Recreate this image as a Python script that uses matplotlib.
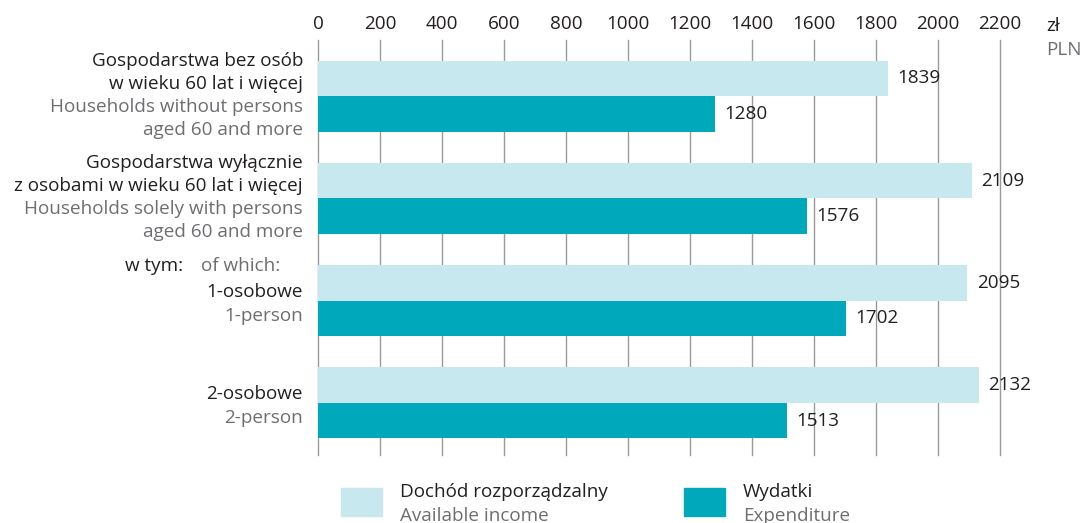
import numpy as np
import matplotlib
matplotlib.use("Agg")
import matplotlib.pyplot as plt
from matplotlib.patches import Rectangle

# data
groups_pl = [["Gospodarstwa bez osób", "w wieku 60 lat i więcej"],
             ["Gospodarstwa wyłącznie", "z osobami w wieku 60 lat i więcej"],
             ["1-osobowe"],
             ["2-osobowe"]]
groups_en = [["Households without persons", "aged 60 and more"],
             ["Households solely with persons", "aged 60 and more"],
             ["1-person"],
             ["2-person"]]
income = [1839, 2109, 2095, 2132]
expenditure = [1280, 1576, 1702, 1513]
xticks = [0, 200, 400, 600, 800, 1000, 1200, 1400, 1600, 1800, 2000, 2200]

light = "#c8e8ef"
dark = "#00a8bb"
black = "#231f20"
gray = "#6d6e71"
grid_col = "#9a9a9a"

plt.rcParams['font.family'] = ['Open Sans', 'DejaVu Sans']
FS = 13.6

W, H = 1080, 523
fig = plt.figure(figsize=(W / 100, H / 100), dpi=100)
# axes in pixel coords: x 318..1000, y 40..455
ax = fig.add_axes([318 / W, 1 - 455 / H, (1000 - 318) / W, (455 - 40) / H])

step = 102.3
y0 = 96
ax.set_xlim(0, 2200)
ax.set_ylim((455 - y0) / step, (40 - y0) / step)

bh = 35.5 / step
pos = np.arange(len(income))
ax.barh(pos - bh / 2, income, height=bh, color=light, zorder=2)
ax.barh(pos + bh / 2, expenditure, height=bh, color=dark, zorder=2)

for i in range(len(income)):
    ax.text(income[i] + 30, pos[i] - bh / 2, str(income[i]), ha="left",
            va="center", fontsize=FS, color=black, zorder=3)
    ax.text(expenditure[i] + 30, pos[i] + bh / 2, str(expenditure[i]),
            ha="left", va="center", fontsize=FS, color=black, zorder=3)

# grid
for t in xticks:
    ax.axvline(t, color=grid_col, lw=1, zorder=1, clip_on=False)
for s in ax.spines.values():
    s.set_visible(False)
ax.xaxis.tick_top()
ax.set_xticks(xticks)
ax.set_xticklabels([str(t) for t in xticks], fontsize=FS, color=black)
ax.tick_params(axis="x", length=0, pad=5)
ax.set_yticks([])

# category labels
tr = ax.get_yaxis_transform()
xl = -15 / (1000 - 318)
for i in range(len(income)):
    pl = groups_pl[i]
    en = groups_en[i]
    if len(pl) == 2:
        offs = [-35, -12, 11, 34]
    else:
        offs = [-9, 15]
    lines = [(t, black) for t in pl] + [(t, gray) for t in en]
    for (t, c), o in zip(lines, offs):
        ax.text(xl, i + o / step, t, transform=tr, ha="right", va="center",
                fontsize=FS, color=c)

ywt = (266 - y0) / step
ax.text((183 - 318) / 682, ywt, "w tym:", transform=tr, ha="right",
        va="center", fontsize=FS, color=black)
ax.text((201 - 318) / 682, ywt, "of which:", transform=tr, ha="left",
        va="center", fontsize=FS, color=gray)

# unit
fig.text(1046 / W, 1 - 26 / H, "zł", ha="left", va="center", fontsize=FS,
         color=black)
fig.text(1046 / W, 1 - 50 / H, "PLN", ha="left", va="center", fontsize=FS,
         color=gray)

# legend
legend = [(341, light, "Dochód rozporządzalny", "Available income"),
          (684, dark, "Wydatki", "Expenditure")]
for x, col, pl, en in legend:
    fig.patches.append(Rectangle((x / W, 1 - 516 / H), 41 / W, 28 / H,
                                 transform=fig.transFigure, color=col))
    fig.text((x + 59) / W, 1 - 492 / H, pl, ha="left", va="center",
             fontsize=FS, color=black)
    fig.text((x + 59) / W, 1 - 516 / H, en, ha="left", va="center",
             fontsize=FS, color=gray)

fig.savefig("out.png", dpi=100)
